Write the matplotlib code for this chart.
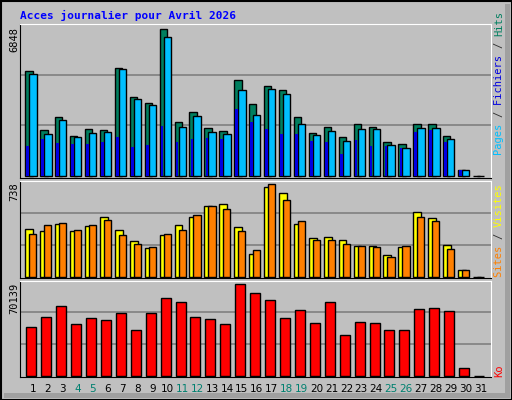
import matplotlib.pyplot as plt
from matplotlib.patches import Rectangle

days = list(range(1, 32))
hits = [4895, 2153, 2757, 1874, 2200, 2153, 5034, 3687, 3408, 6848, 2525, 2990, 2246, 2107, 4477,
        3361, 4198, 4012, 2757, 2014, 2293, 1828, 2432, 2293, 1595, 1503, 2432, 2432, 1874, 248, 0]
files = [4756, 1967, 2618, 1828, 2014, 2060, 4988, 3594, 3315, 6475, 2293, 2804, 2060, 1967, 4012,
         2850, 4058, 3826, 2432, 1921, 2107, 1642, 2200, 2200, 1456, 1317, 2246, 2246, 1735, 248, 0]
pages = [1379, 1704, 1518, 1472, 1472, 1565, 1797, 1332, 1425, 2308, 1565, 1704, 1750, 1704, 3098,
         2494, 2169, 1936, 1936, 1611, 1565, 1007, 1657, 1379, 1379, 1286, 2029, 2122, 1565, 248, 0]
sites = [386, 370, 418, 370, 402, 474, 378, 290, 234, 338, 410, 474, 562, 578, 394,
         186, 714, 666, 418, 314, 322, 298, 250, 250, 178, 242, 514, 466, 258, 59, 0]
visites = [346, 410, 426, 378, 410, 450, 338, 266, 242, 346, 378, 490, 562, 538, 370,
           218, 738, 610, 442, 298, 298, 266, 250, 242, 163, 250, 474, 442, 226, 59, 0]
ko = [37120, 44800, 53250, 39420, 44030, 42500, 47870, 34820, 47870, 59390, 56320, 44800, 43260, 39420, 70139,
      63230, 57860, 44030, 50180, 40190, 56320, 30980, 40960, 40190, 34820, 34820, 50940, 51710, 49410, 6400, 0]
weekends = [4, 5, 11, 12, 18, 19, 25, 26]

W, H = 512, 400
fig = plt.figure(figsize=(5.12, 4.0), dpi=100)
fig.patch.set_facecolor("#c0c0c0")
mono = "DejaVu Sans Mono"


def px_rect(x, y, w, h, **kw):
    fig.patches.append(Rectangle((x / W, 1 - (y + h) / H), w / W, h / H,
                                 transform=fig.transFigure, **kw))


# frame and shadow
px_rect(505, 4, 5, 394, facecolor="#a0a0a0", edgecolor="none")
px_rect(4, 393, 506, 5, facecolor="#a0a0a0", edgecolor="none")
px_rect(0.5, 0.5, 511, 399, facecolor="none", edgecolor="black", lw=1.5)


def make_ax(top, bottom, ymax):
    ax = fig.add_axes([20 / W, 1 - bottom / H, 471 / W, (bottom - top) / H])
    ax.set_facecolor("#c0c0c0")
    ax.set_xlim(0.129, 31.69)
    ax.set_ylim(-ymax * 0.012, ymax)
    for v in (ymax / 3, 2 * ymax / 3):
        ax.axhline(v, color="#808080", lw=1.2, zorder=0)
    ax.set_xticks([])
    ax.set_yticks([])
    ax.spines["left"].set_color("black")
    ax.spines["bottom"].set_color("black")
    ax.spines["top"].set_color("white")
    ax.spines["right"].set_color("white")
    return ax


ax1 = make_ax(24.3, 177.5, 7080)
ax2 = make_ax(180.5, 278.3, 767)
ax3 = make_ax(280.7, 377.0, 72900)

ec = dict(edgecolor="black", linewidth=1)
ax1.bar([d - 0.516 for d in days], hits, width=0.49, align="edge", color="#007f5f", **ec)
ax1.bar([d - 0.248 for d in days], files, width=0.49, align="edge", color="#00bfff", **ec)
ax1.bar([d - 0.44 for d in days], pages, width=0.18, align="edge", color="#0000e0", edgecolor="none")

ax2.bar([d - 0.516 for d in days], sites, width=0.52, align="edge", color="#ffff00", **ec)
ax2.bar([d - 0.248 for d in days], visites, width=0.48, align="edge", color="#ff8000", **ec)

ax3.bar([d - 0.45 for d in days], ko, width=0.67, align="edge", color="#ff0000", **ec)

fig.text(20 / W, 1 - 15 / H, "Acces journalier pour Avril 2026", color="#0000ff",
         fontsize=8, fontweight="bold", family=mono, va="center")

for label, top in (("6848", 27), ("738", 182), ("70139", 283)):
    fig.text(14 / W, 1 - top / H, label, rotation=90, fontsize=7.5, family=mono,
             ha="center", va="top", color="black")

# right legends, reading bottom to top
adv = 0.602 * 7.5 * 100 / 72


def legend(bottom, pieces):
    y = bottom
    for txt, col in pieces:
        fig.text(499 / W, 1 - y / H, txt, rotation=90, fontsize=7.5, family=mono,
                 color=col, ha="center", va="bottom")
        y -= len(txt) * adv


legend(155, [("Pages ", "#00bfff"), ("/ ", "#303030"), ("Fichiers ", "#0000e0"),
             ("/ ", "#303030"), ("Hits", "#007f5f")])
legend(277, [("Sites ", "#ff8000"), ("/ ", "#303030"), ("Visites", "#ffff00")])
legend(377, [("Ko", "#ff0000")])

for d in days:
    x = 20 + (d - 0.129) / (31.69 - 0.129) * 471
    fig.text(x / W, 1 - 389 / H, str(d), fontsize=7.5, family="DejaVu Sans",
             color="#00806f" if d in weekends else "black", ha="center", va="center")

fig.savefig("out.png", dpi=100, facecolor=fig.get_facecolor())
